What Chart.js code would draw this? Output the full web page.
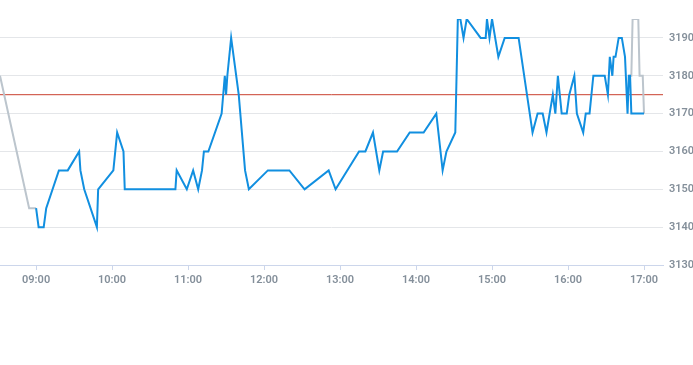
<!DOCTYPE html>
<html>
<head>
<meta charset="utf-8">
<script src="https://cdn.jsdelivr.net/npm/chart.js@4/dist/chart.umd.min.js"></script>
<style>
  html, body { margin: 0; padding: 0; background: #fff; overflow: hidden; }
</style>
</head>
<body>
<canvas id="chart" width="693" height="365"></canvas>
<script>
// intraday series (blue), session edges (grey), reference level (red)
const blueTimes = ["09:00","09:02","09:06","09:08","09:18","09:25","09:34","09:35","09:38","09:48",
  "09:49","10:01","10:04","10:09","10:10","10:50","10:51","10:59","11:04","11:08",
  "11:11","11:12:30","11:16","11:26:30","11:29","11:30","11:31","11:34","11:40","11:45",
  "11:48","12:03","12:20","12:32","12:51","12:56:30","13:15","13:20","13:26","13:31",
  "13:34","13:45","13:55","14:06","14:16","14:21","14:24","14:31","14:33","14:35",
  "14:37:30","14:40","14:51","14:55","14:56","14:58","15:00","15:05","15:10","15:21",
  "15:32","15:36","15:40","15:43","15:48","15:50","15:52","15:55","15:59","16:01",
  "16:05","16:07","16:12","16:14","16:17","16:20","16:29","16:31:30","16:33","16:35",
  "16:36","16:37:30","16:40","16:42:30","16:45","16:47","16:48","16:49","16:50","17:00"];
const blueValues = [3145,3140,3140,3145,3155,3155,3160,3155,3150,3140,
  3150,3155,3165,3160,3150,3150,3155,3150,3155,3150,
  3155,3160,3160,3170,3180,3175,3180,3190,3175,3155,
  3150,3155,3155,3150,3155,3150,3160,3160,3165,3155,
  3160,3160,3165,3165,3170,3155,3160,3165,3195,3195,
  3190,3195,3190,3190,3195,3190,3195,3185,3190,3190,
  3165,3170,3170,3165,3175,3170,3180,3170,3170,3175,
  3180,3170,3165,3170,3170,3180,3180,3175,3185,3180,
  3185,3185,3190,3190,3185,3170,3180,3180,3170,3170];

const greyTimes = ["08:31:30","08:54:30","09:00","12:00","16:48","16:50","16:51","16:55:30","16:56:30","16:59","17:00"];
const greyValues = [3180,3145,3145,null,3180,3180,3195,3195,3180,3180,3170];

const refLevel = 3175;

const xStart = "08:31:30";
const xEnd = "17:15";
const hourTicks = ["09:00","10:00","11:00","12:00","13:00","14:00","15:00","16:00","17:00"];
const yTicks = [3130,3140,3150,3160,3170,3180,3190];
const yMin = 3130;
const yMax = 3195;

function toMin(s) {
  const p = s.split(":").map(Number);
  return p[0] * 60 + p[1] + (p[2] || 0) / 60;
}
function fmt(v) {
  const h = Math.floor(v / 60), m = Math.round(v - h * 60);
  return String(h).padStart(2, "0") + ":" + String(m).padStart(2, "0");
}

const pts = (times, vals) => times.map((t, i) => ({ x: toMin(t), y: vals[i] }));

Chart.defaults.font.family = "Roboto, 'Liberation Sans', sans-serif";

new Chart(document.getElementById("chart"), {
  type: "line",
  data: {
    datasets: [
      {
        data: pts(blueTimes, blueValues),
        borderColor: "#118fe0",
        borderWidth: 2,
        pointRadius: 0,
        tension: 0
      },
      {
        data: pts(greyTimes, greyValues),
        borderColor: "#bcc5cd",
        borderWidth: 2,
        pointRadius: 0,
        tension: 0,
        spanGaps: false
      },
      {
        data: [{ x: toMin(xStart), y: refLevel }, { x: toMin(xEnd), y: refLevel }],
        borderColor: "#c9412f",
        borderWidth: 1,
        pointRadius: 0
      }
    ]
  },
  options: {
    responsive: false,
    animation: false,
    layout: { padding: { top: 19, left: 0, right: 0, bottom: 0 } },
    plugins: { legend: { display: false }, tooltip: { enabled: false } },
    scales: {
      x: {
        type: "linear",
        min: toMin(xStart),
        max: toMin(xEnd),
        afterBuildTicks: (s) => { s.ticks = hourTicks.map(t => ({ value: toMin(t) })); },
        afterFit: (s) => { s.height = 100; },
        grid: { drawOnChartArea: false, drawTicks: true, tickLength: 5, color: "#ccd6eb" },
        border: { color: "#ccd6eb" },
        ticks: {
          padding: 4,
          color: "#848f9a",
          font: { size: 11, weight: "600" },
          maxRotation: 0,
          callback: (v) => fmt(v)
        }
      },
      y: {
        position: "right",
        min: yMin,
        max: yMax,
        afterBuildTicks: (s) => { s.ticks = yTicks.map(v => ({ value: v })); },
        afterFit: (s) => { s.width = 30; },
        grid: { color: "#e4e6e9", drawTicks: false },
        border: { display: false },
        ticks: {
          padding: 6,
          color: "#848f9a",
          font: { size: 11, weight: "600" },
          callback: (v) => String(v)
        }
      }
    }
  }
});
</script>
</body>
</html>
